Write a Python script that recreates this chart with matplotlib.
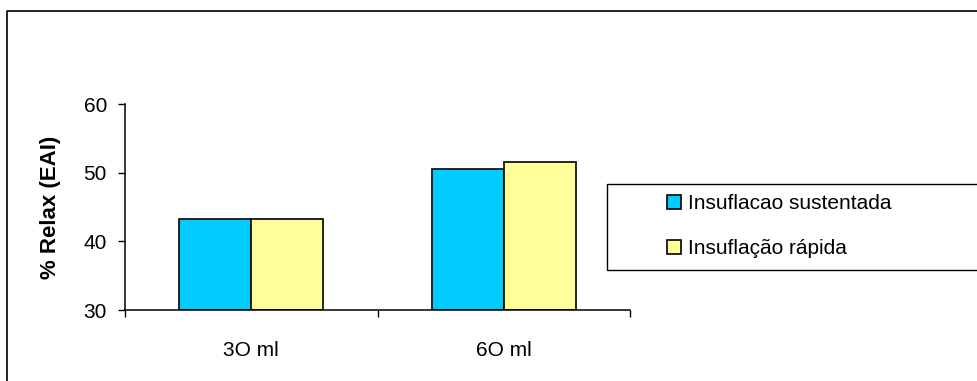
import numpy as np
import matplotlib.pyplot as plt
from matplotlib.lines import Line2D
from matplotlib.patches import Rectangle

plt.rcParams['font.family'] = ['Liberation Sans', 'DejaVu Sans']

categories = ['3O ml', '6O ml']
sustentada = [43.2, 50.5]
rapida = [43.2, 51.6]
series_names = ['Insuflacao sustentada', 'Insuflação rápida']

fig = plt.figure(figsize=(9.78, 3.81), dpi=100)
ax = fig.add_axes([125/978, 1-310/381, 505/978, 206/381])

x = np.arange(len(categories))
w = 0.285
b1 = ax.bar(x - w/2, np.array(sustentada) - 30, w, bottom=30, color='#00CCFF',
            edgecolor='black', linewidth=1.2, label=series_names[0])
b2 = ax.bar(x + w/2, np.array(rapida) - 30, w, bottom=30, color='#FFFF99',
            edgecolor='black', linewidth=1.2, label=series_names[1])

ax.set_ylim(30, 60)
ax.set_xlim(-0.5, 1.5)
ax.set_yticks([30, 40, 50, 60])
ax.set_xticks(x)
ax.set_xticklabels(categories)
ax.set_xticks([-0.5, 0.5, 1.5], minor=True)
ax.tick_params(axis='x', which='major', length=0, pad=22, labelsize=15)
ax.tick_params(axis='x', which='minor', length=5, width=1, direction='out')
ax.tick_params(axis='y', length=5, width=1, direction='out', labelsize=15, pad=8)
for s in ['top', 'right']:
    ax.spines[s].set_visible(False)
for s in ['left', 'bottom']:
    ax.spines[s].set_linewidth(1.1)
ax.set_ylabel('% Relax (EAI)', fontsize=16, fontweight='bold', labelpad=16)

# legend frame runs off the right edge
fig.patches.append(Rectangle((607/978, 1-270/381), 0.5, 86/381, transform=fig.transFigure,
                             fill=False, edgecolor='black', linewidth=1.0))
fig.legend(handles=[b1, b2], labels=series_names, loc='center left',
           bbox_to_anchor=(657/978, 1-226/381), frameon=False, fontsize=15,
           handlelength=0.65, handleheight=0.65, handletextpad=0.35, labelspacing=1.25,
           borderpad=0)

# outer chart border
fig.add_artist(Line2D([7/978, 7/978, 1.0], [0, 1-11/381, 1-11/381],
                      transform=fig.transFigure, color='black', linewidth=1.2))

fig.savefig('out.png', dpi=100)
